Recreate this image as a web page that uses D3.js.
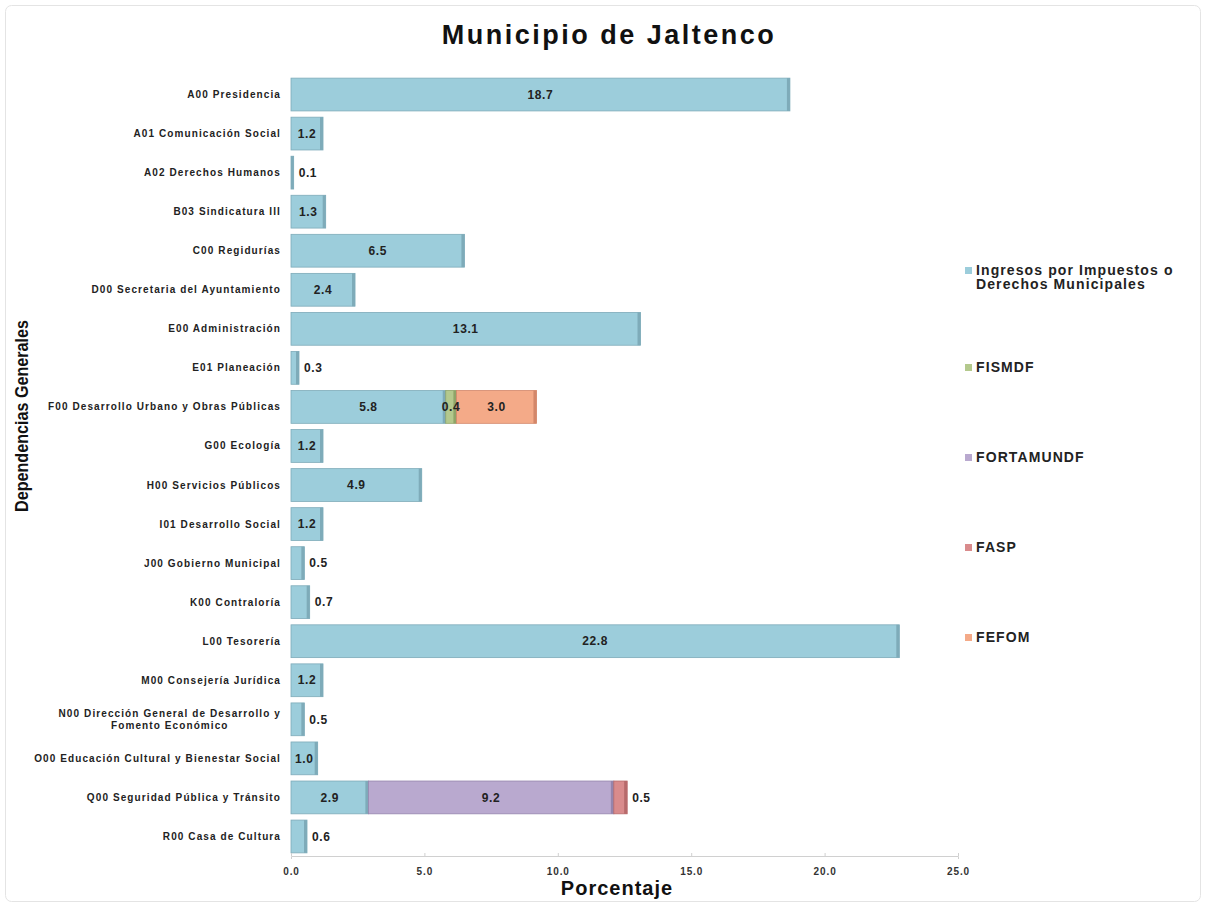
<!DOCTYPE html>
<html>
<head>
<meta charset="utf-8">
<script src="https://cdn.jsdelivr.net/npm/d3@7"></script>
<style>
  body { margin: 0; background: #fff; }
  text { font-family: "Liberation Sans", Arial, sans-serif; }
</style>
</head>
<body>
<div id="chart"></div>
<script>
// categories (dependencias) top to bottom
var categories = [
  "A00 Presidencia",
  "A01 Comunicación Social",
  "A02 Derechos Humanos",
  "B03 Sindicatura III",
  "C00 Regidurías",
  "D00 Secretaria del Ayuntamiento",
  "E00 Administración",
  "E01 Planeación",
  "F00 Desarrollo Urbano y Obras Públicas",
  "G00 Ecología",
  "H00 Servicios Públicos",
  "I01 Desarrollo Social",
  "J00 Gobierno Municipal",
  "K00 Contraloría",
  "L00 Tesorería",
  "M00 Consejería Jurídica",
  "N00 Dirección General de Desarrollo y|Fomento Económico",
  "O00 Educación Cultural y Bienestar Social",
  "Q00 Seguridad Pública y Tránsito",
  "R00 Casa de Cultura"
];

// one array per funding source (percent)
var ingresos   = [18.7, 1.2, 0.1, 1.3, 6.5, 2.4, 13.1, 0.3, 5.8, 1.2, 4.9, 1.2, 0.5, 0.7, 22.8, 1.2, 0.5, 1.0, 2.9, 0.6];
var fismdf     = [0, 0, 0, 0, 0, 0, 0, 0, 0.4, 0, 0, 0, 0, 0, 0, 0, 0, 0, 0, 0];
var fortamundf = [0, 0, 0, 0, 0, 0, 0, 0, 0, 0, 0, 0, 0, 0, 0, 0, 0, 0, 9.2, 0];
var fasp       = [0, 0, 0, 0, 0, 0, 0, 0, 0, 0, 0, 0, 0, 0, 0, 0, 0, 0, 0.5, 0];
var fefom      = [0, 0, 0, 0, 0, 0, 0, 0, 3.0, 0, 0, 0, 0, 0, 0, 0, 0, 0, 0, 0];

var seriesNames = ["Ingresos por Impuestos o|Derechos Municipales", "FISMDF", "FORTAMUNDF", "FASP", "FEFOM"];
var seriesKeys = ["ingresos", "fismdf", "fortamundf", "fasp", "fefom"];
var xTicks = [0, 5, 10, 15, 20, 25];

var colors = ["#9ccddb", "#b4c98d", "#b9a9cf", "#d98b8c", "#f4aa88"];
var edges  = ["#7eabb9", "#8fa468", "#9585ad", "#b76a6b", "#d3876a"];

// build rows for d3.stack
var rows = categories.map(function(c, i) {
  return {cat: c, ingresos: ingresos[i], fismdf: fismdf[i], fortamundf: fortamundf[i], fasp: fasp[i], fefom: fefom[i]};
});

var W = 1206, H = 907;
var margin = {top: 75, right: 248, bottom: 51, left: 291};
var width = W - margin.left - margin.right,
    height = H - margin.top - margin.bottom;

var svg = d3.select("#chart").append("svg")
  .attr("width", W)
  .attr("height", H);

// light frame
svg.append("rect")
  .attr("x", 5.5).attr("y", 5.5)
  .attr("width", W - 11).attr("height", H - 11)
  .attr("rx", 6)
  .attr("fill", "none")
  .attr("stroke", "#e4e4e4");

var g = svg.append("g")
  .attr("transform", "translate(" + margin.left + "," + margin.top + ")");

var x = d3.scaleLinear().domain([0, 25]).range([0, width]);
var y = d3.scaleBand().domain(categories).range([0, height]).paddingInner(0.16).paddingOuter(0.08);

var stack = d3.stack().keys(seriesKeys);
var stacked = stack(rows);

// bars
stacked.forEach(function(layer, si) {
  var lg = g.append("g");
  var segs = lg.selectAll("g.seg")
    .data(layer.filter(function(d) { return d[1] - d[0] > 0; }))
    .enter().append("g");

  segs.append("rect")
    .attr("x", function(d) { return x(d[0]); })
    .attr("y", function(d) { return y(d.data.cat); })
    .attr("width", function(d) { return x(d[1]) - x(d[0]); })
    .attr("height", y.bandwidth())
    .attr("fill", colors[si])
    .attr("stroke", edges[si])
    .attr("stroke-width", 0.8);

  // darker right edge for the bevel look
  segs.append("rect")
    .attr("x", function(d) { return Math.max(x(d[0]), x(d[1]) - 3); })
    .attr("y", function(d) { return y(d.data.cat); })
    .attr("width", function(d) { return Math.min(3, x(d[1]) - x(d[0])); })
    .attr("height", y.bandwidth())
    .attr("fill", edges[si]);
});

// value labels
var labels = [];
rows.forEach(function(r, i) {
  var last = -1;
  seriesKeys.forEach(function(k, si) { if (r[k] > 0) last = si; });
  stacked.forEach(function(layer, si) {
    var d = layer[i];
    var v = d[1] - d[0];
    if (v <= 0) return;
    var outside = v < 1 && si === last;
    labels.push({
      cat: r.cat,
      text: d3.format(".1f")(v),
      x: outside ? x(d[1]) + 5 : (x(d[0]) + x(d[1])) / 2,
      anchor: outside ? "start" : "middle"
    });
  });
});

g.selectAll("text.val")
  .data(labels)
  .enter().append("text")
  .attr("class", "val")
  .attr("x", function(d) { return d.x; })
  .attr("y", function(d) { return y(d.cat) + y.bandwidth() / 2; })
  .attr("dy", "0.35em")
  .attr("text-anchor", function(d) { return d.anchor; })
  .style("font-size", "12px")
  .style("font-weight", "bold")
  .style("letter-spacing", "0.6px")
  .attr("fill", "#222")
  .text(function(d) { return d.text; });

// x axis
var xAxis = g.append("g")
  .attr("transform", "translate(0," + height + ")")
  .call(d3.axisBottom(x).tickValues(xTicks).tickFormat(d3.format(".1f")).tickSize(3).tickPadding(9));
xAxis.select(".domain").attr("stroke", "#d0d0d0");
xAxis.selectAll(".tick line").attr("stroke", "#d0d0d0").attr("y2", -3);
xAxis.selectAll(".tick text")
  .style("font-size", "10px").style("font-weight", "bold")
  .style("letter-spacing", "0.9px")
  .attr("fill", "#333");

// category labels
var catG = g.append("g");
function catText(xx, yy, anchor, s) {
  return catG.append("text")
    .attr("x", xx).attr("y", yy).attr("dy", "0.35em")
    .attr("text-anchor", anchor)
    .style("font-size", "10px").style("font-weight", "bold")
    .style("letter-spacing", "1.1px")
    .attr("fill", "#222")
    .text(s);
}
categories.forEach(function(c) {
  var parts = c.split("|");
  var cy = y(c) + y.bandwidth() / 2;
  if (parts.length === 1) {
    catText(-10, cy, "end", c);
  } else {
    var t1 = catText(-10, cy - 6, "end", parts[0]);
    var w1 = t1.node().getComputedTextLength();
    catText(-10 - w1 / 2, cy + 6, "middle", parts[1]);
  }
});

// title
svg.append("text")
  .attr("x", 609).attr("y", 44)
  .attr("text-anchor", "middle")
  .style("font-size", "27px").style("font-weight", "bold")
  .style("letter-spacing", "2.5px")
  .attr("fill", "#111")
  .text("Municipio de Jaltenco");

// axis titles
svg.append("text")
  .attr("x", 617).attr("y", 895)
  .attr("text-anchor", "middle")
  .style("font-size", "20px").style("font-weight", "bold")
  .style("letter-spacing", "1px")
  .attr("fill", "#111")
  .text("Porcentaje");

svg.append("text")
  .attr("transform", "translate(28,416) rotate(-90)")
  .attr("text-anchor", "middle")
  .attr("textLength", 192)
  .attr("lengthAdjust", "spacingAndGlyphs")
  .style("font-size", "18px").style("font-weight", "bold")
  .attr("fill", "#111")
  .text("Dependencias Generales");

// legend
var ly = d3.scalePoint().domain(seriesNames).range([277, 637]);
var leg = svg.append("g");
seriesNames.forEach(function(n, i) {
  var parts = n.split("|");
  var cy = ly(n) - (parts.length - 1) * 7;
  leg.append("rect")
    .attr("x", 965).attr("y", cy - 3)
    .attr("width", 7).attr("height", 7)
    .attr("fill", colors[i]);
  parts.forEach(function(p, j) {
    leg.append("text")
      .attr("x", 976).attr("y", cy + j * 14).attr("dy", "0.35em")
      .style("font-size", "14px").style("font-weight", "bold")
      .style("letter-spacing", "1.1px")
      .attr("fill", "#222")
      .text(p);
  });
});
</script>
</body>
</html>
